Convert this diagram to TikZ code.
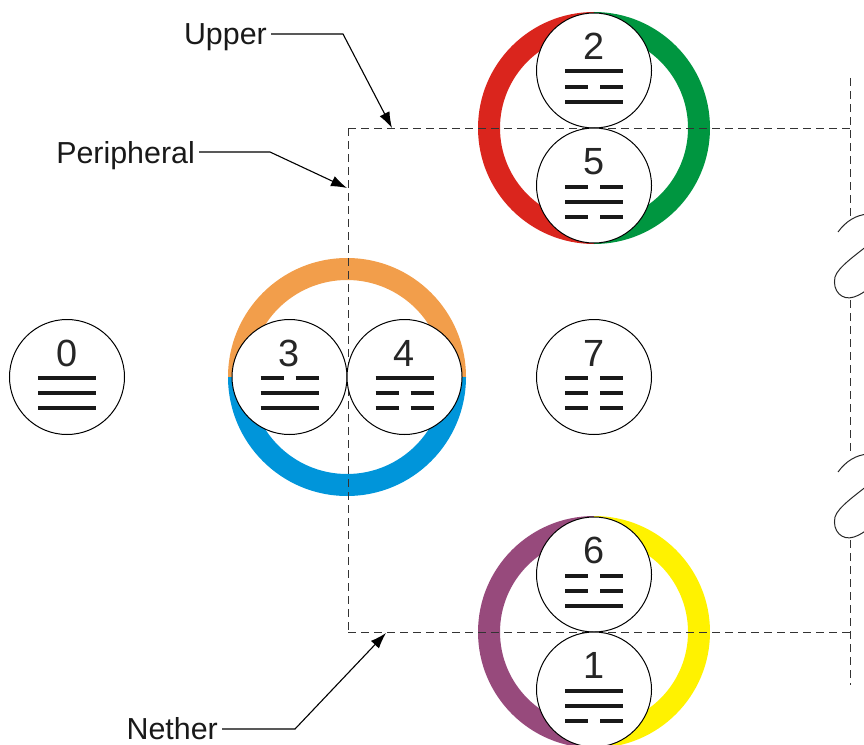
\documentclass[tikz,border=0pt]{standalone}
\usepackage{fontspec}
\setmainfont{Liberation Sans}
\usetikzlibrary{arrows.meta}
\definecolor{ringred}{HTML}{DA251D}
\definecolor{ringgreen}{HTML}{009640}
\definecolor{ringorange}{HTML}{F29E4B}
\definecolor{ringblue}{HTML}{0095DA}
\definecolor{ringpurple}{HTML}{974A7C}
\definecolor{ringyellow}{HTML}{FFF200}
\definecolor{dashgray}{HTML}{333333}
\newcommand\trigram[5]{%
  \pic at (#1,{#2+1}) {#3};
  \pic at (#1,{#2+16}) {#4};
  \pic at (#1,{#2+31}) {#5};}
\begin{document}
\begin{tikzpicture}[x=1bp,y=-1bp,
  disc/.style={circle,draw=black,line width=1bp,fill=white,minimum size=115bp,inner sep=0pt},
  digit/.style={font=\fontsize{38}{38}\selectfont,inner sep=0pt,anchor=base,text=black!85},
  bar/.style={line width=4bp,black!90},
  yang/.pic={\draw[bar] (-29,0) -- (29,0);},
  yin/.pic={\draw[bar] (-29,0) -- (-6,0) (6,0) -- (29,0);},
  frame/.style={dashgray,line width=1bp,dash pattern=on 8bp off 5bp},
  lbl/.style={font=\fontsize{30.5}{32}\selectfont,inner sep=0pt,text=black!90},
  tip/.style={line width=1.1bp,black,-{Latex[length=16bp,width=11bp]}},
  brk/.pic={\draw[line width=1bp,black!85]
     (-14,17) .. controls (-6,6) and (4,0) .. (16,-1)
     .. controls (30,-2) and (30,20) .. (16,30)
     .. controls (4,40) and (-14,52) .. (-17,62)
     .. controls (-20,76) and (-10,86) .. (2,82)
     .. controls (8,80) and (12,77) .. (16,74);}
]
\useasboundingbox (0,0) rectangle (864,745);

% rings
\begin{scope}
  \clip (470,0) rectangle (594,260);
  \fill[ringred,even odd rule] (594,128) circle[radius=116] (594,128) circle[radius=94];
\end{scope}
\begin{scope}
  \clip (594,0) rectangle (720,260);
  \fill[ringgreen,even odd rule] (594,128) circle[radius=116] (594,128) circle[radius=94];
\end{scope}
\begin{scope}
  \clip (220,250) rectangle (480,377);
  \fill[ringorange,even odd rule] (347,377) circle[radius=119] (347,377) circle[radius=97];
\end{scope}
\begin{scope}
  \clip (220,377) rectangle (480,505);
  \fill[ringblue,even odd rule] (347,377) circle[radius=119] (347,377) circle[radius=97];
\end{scope}
\begin{scope}
  \clip (470,500) rectangle (594,760);
  \fill[ringpurple,even odd rule] (594,632) circle[radius=116] (594,632) circle[radius=94];
\end{scope}
\begin{scope}
  \clip (594,500) rectangle (720,760);
  \fill[ringyellow,even odd rule] (594,632) circle[radius=116] (594,632) circle[radius=94];
\end{scope}

% dashed frame
\coordinate (tl) at (348,128);
\coordinate (bl) at (348,632);
\coordinate (tr) at (850,128);
\coordinate (br) at (850,632);
\draw[frame] (tl) -- (tr);
\draw[frame] (bl) -- (br);
\draw[frame] (tl) -- (bl);
\coordinate (r0) at (850,78);
\coordinate (r1) at (850,216);
\coordinate (r2) at (850,300);
\coordinate (r3) at (850,456);
\coordinate (r4) at (850,540);
\coordinate (r5) at (850,685);
\draw[frame] (r0) -- (r1);
\draw[frame] (r2) -- (r3);
\draw[frame] (r4) -- (r5);
\pic at (852,215) {brk};
\pic at (852,455) {brk};

% circles
\node[disc] (c0) at (67,377) {};
\node[disc] (c3) at (289.5,377) {};
\node[disc] (c4) at (404.5,377) {};
\node[disc] (c7) at (594,377) {};
\node[disc] (c2) at (594,70.5) {};
\node[disc] (c5) at (594,185.5) {};
\node[disc] (c6) at (594,574.5) {};
\node[disc] (c1) at (594,689.5) {};

\node[digit] (d0) at (67,366) {0};
\node[digit] (d3) at (289.5,366) {3};
\node[digit] (d4) at (404.5,366) {4};
\node[digit] (d7) at (594,366) {7};
\node[digit] (d2) at (594,59.5) {2};
\node[digit] (d5) at (594,174.5) {5};
\node[digit] (d6) at (594,563.5) {6};
\node[digit] (d1) at (594,678.5) {1};

\trigram{67}{377}{yang}{yang}{yang}
\trigram{289.5}{377}{yin}{yang}{yang}
\trigram{404.5}{377}{yang}{yin}{yin}
\trigram{594}{377}{yin}{yin}{yin}
\trigram{594}{70.5}{yang}{yin}{yang}
\trigram{594}{185.5}{yin}{yang}{yin}
\trigram{594}{574.5}{yin}{yin}{yang}
\trigram{594}{689.5}{yang}{yang}{yin}

% labels and leaders
\node[lbl,anchor=base east] (lu) at (267,45) {Upper};
\node[lbl,anchor=base east] (lp) at (195,163) {Peripheral};
\node[lbl,anchor=base east] (ln) at (218,739) {Nether};
\coordinate (ua) at (271,34);
\coordinate (ub) at (343,34);
\coordinate (ut) at (392,128);
\coordinate (pa) at (199,152);
\coordinate (pb) at (270,152);
\coordinate (pt) at (347,188);
\coordinate (na) at (222,729);
\coordinate (nb) at (295,729);
\coordinate (nt) at (386,633);
\draw[tip] (ua) -- (ub) -- (ut);
\draw[tip] (pa) -- (pb) -- (pt);
\draw[tip] (na) -- (nb) -- (nt);
\end{tikzpicture}
\end{document}
